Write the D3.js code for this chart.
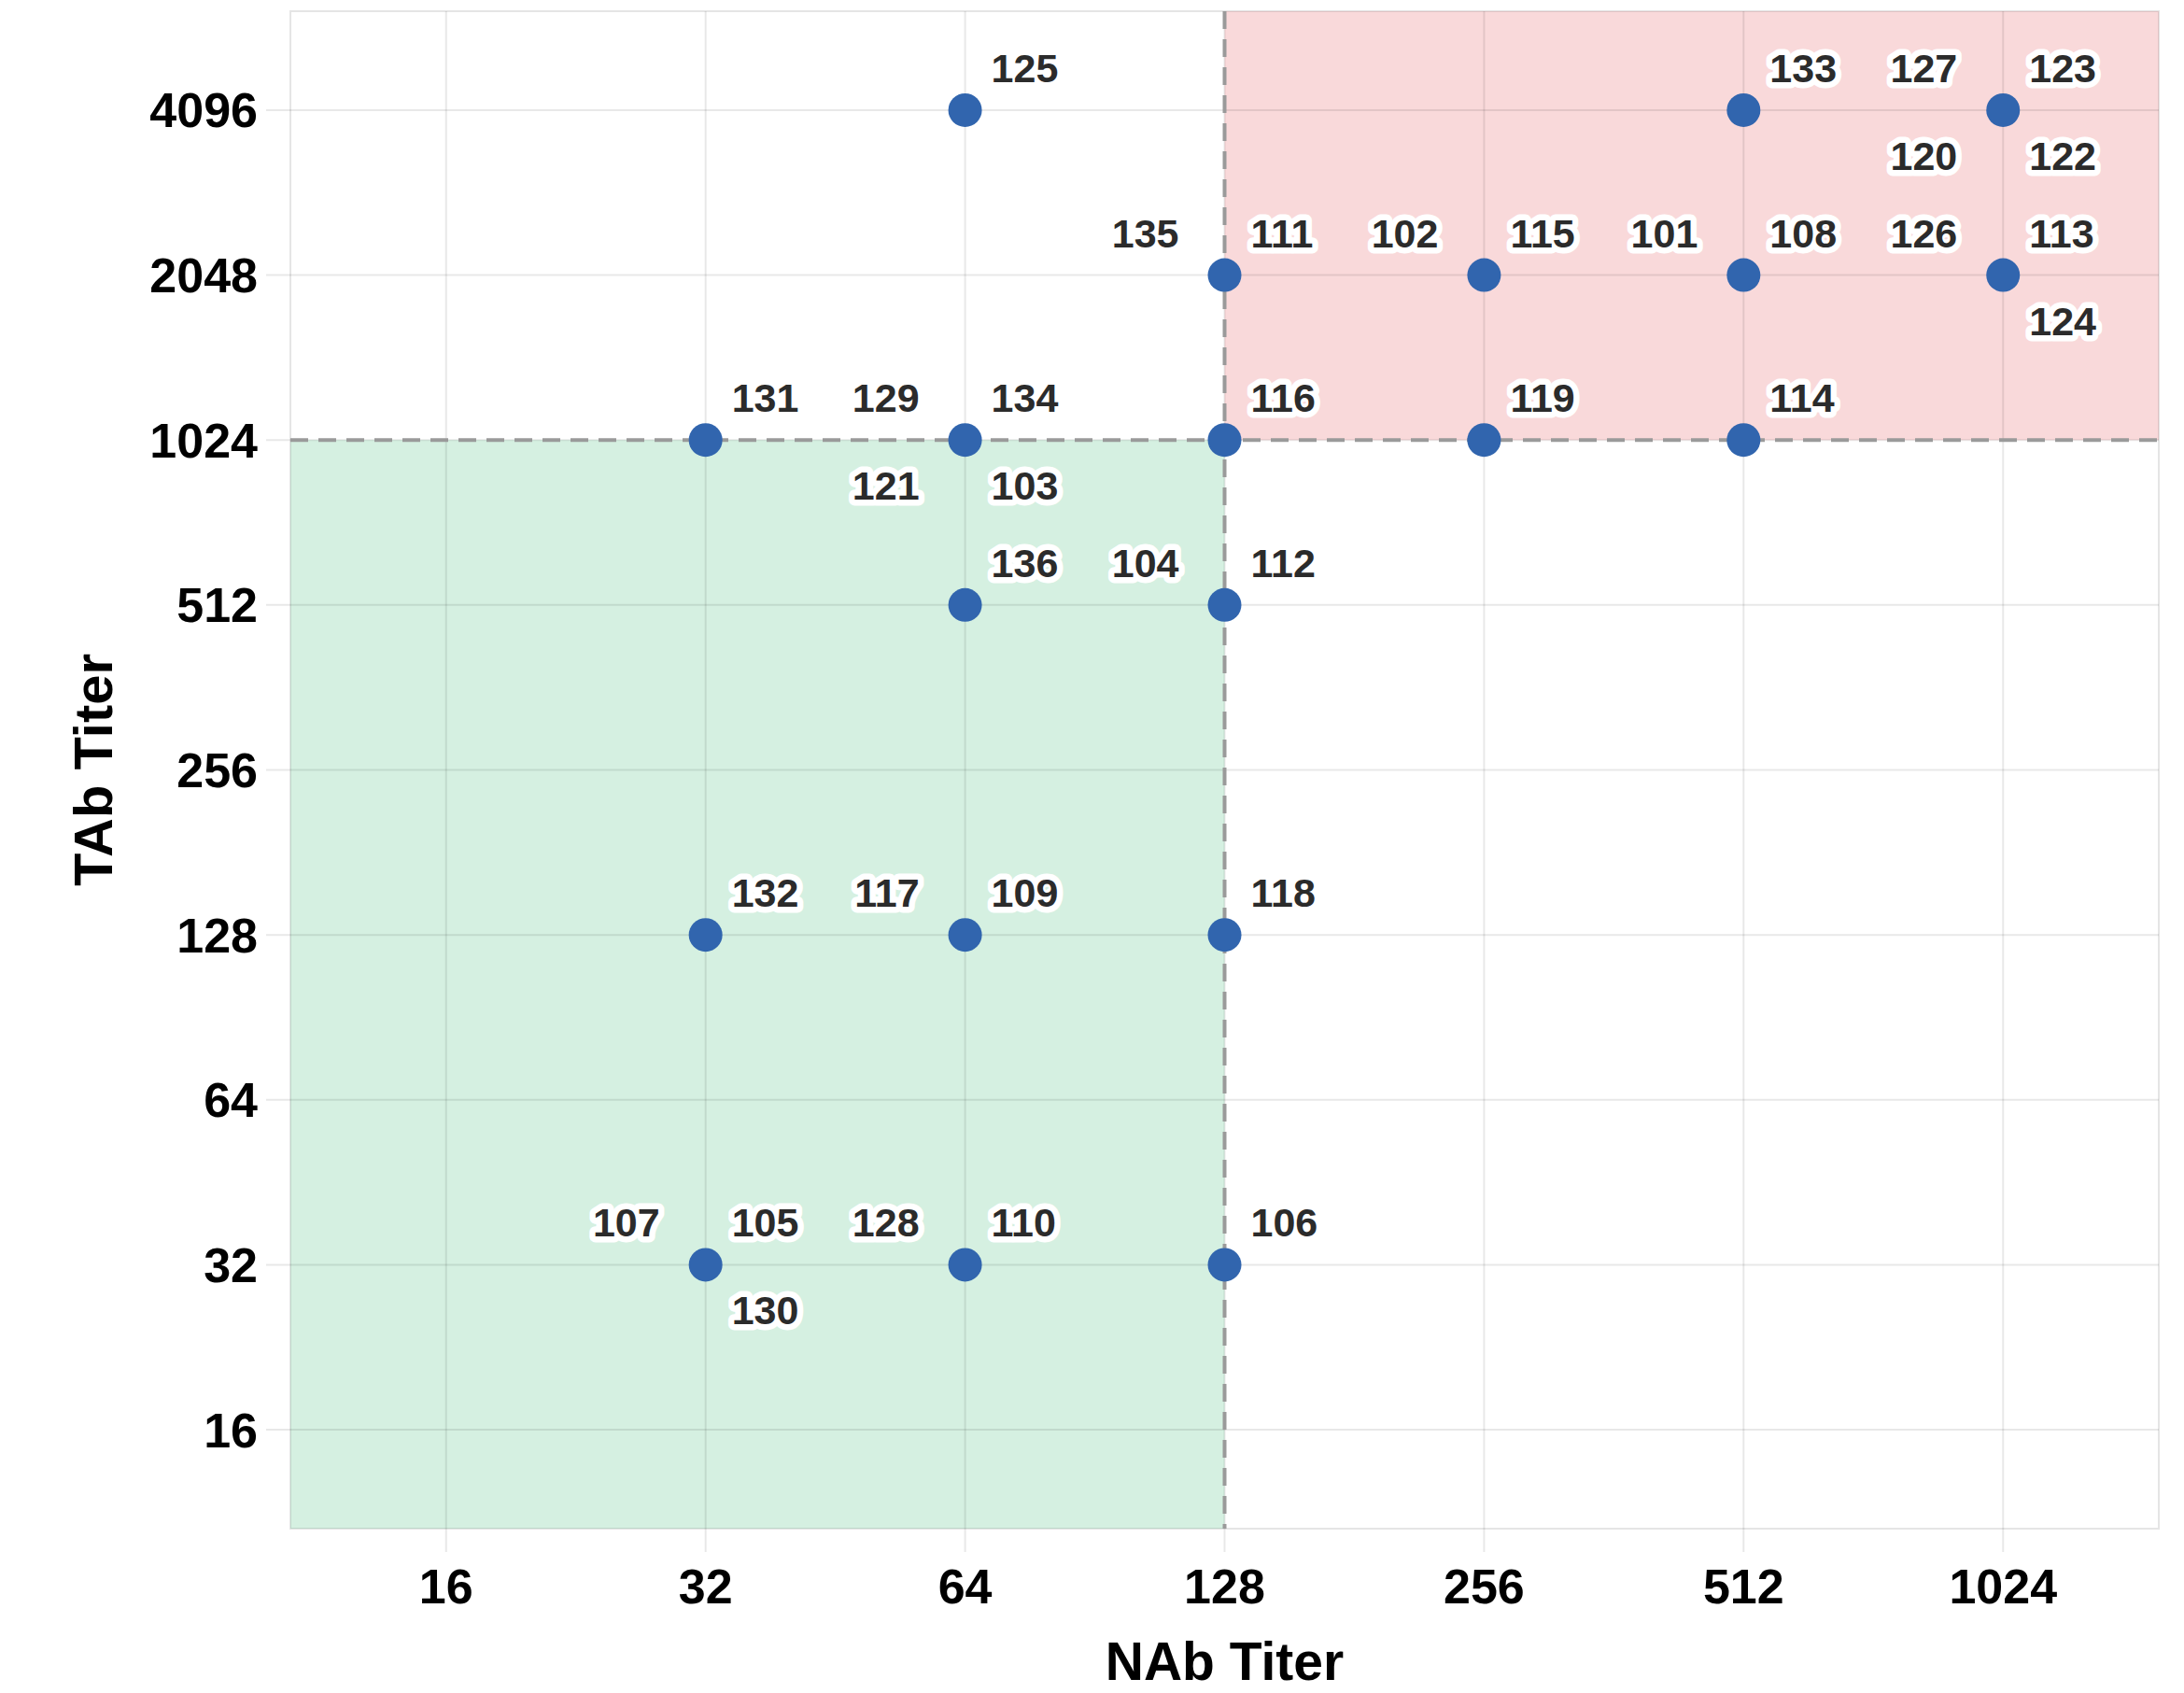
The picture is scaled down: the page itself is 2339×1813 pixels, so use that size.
<!DOCTYPE html>
<html>
<head>
<meta charset="utf-8">
<script src="https://cdn.jsdelivr.net/npm/d3@7"></script>
<style>
  html, body { margin: 0; padding: 0; background: #fff; }
  svg { display: block; font-family: "Liberation Sans", Arial, sans-serif; }
</style>
</head>
<body>
<svg id="chart"></svg>
<script>
// sample ids and their titers
const sampleIds = [101, 102, 103, 104, 105, 106, 107, 108, 109, 110, 111, 112,
                   113, 114, 115, 116, 117, 118, 119, 120, 121, 122, 123, 124,
                   125, 126, 127, 128, 129, 130, 131, 132, 133, 134, 135, 136];
const nabTiter = [512, 256, 64, 128, 32, 128, 32, 512, 64, 64, 128, 128,
                  1024, 512, 256, 128, 64, 128, 256, 1024, 64, 1024, 1024, 1024,
                  64, 1024, 1024, 64, 64, 32, 32, 32, 512, 64, 128, 64];
const tabTiter = [2048, 2048, 1024, 512, 32, 32, 32, 2048, 128, 32, 2048, 512,
                  2048, 1024, 2048, 1024, 128, 128, 1024, 4096, 1024, 4096, 4096, 2048,
                  4096, 2048, 4096, 32, 1024, 32, 1024, 128, 4096, 1024, 2048, 512];
// which corner each label sits in around its point (ur, ul, lr, ll)
const labelSlot = ["ul", "ul", "lr", "ul", "ur", "ur", "ul", "ur", "ur", "ur", "ur", "ur",
                   "ur", "ur", "ur", "ur", "ul", "ur", "ur", "ll", "ll", "lr", "ur", "lr",
                   "ur", "ul", "ul", "ul", "ul", "lr", "ur", "ur", "ur", "ur", "ul", "ur"];

const xTicks = [16, 32, 64, 128, 256, 512, 1024];
const yTicks = [16, 32, 64, 128, 256, 512, 1024, 2048, 4096];
const nabCutoff = 128;
const tabCutoff = 1024;

const width = 2339, height = 1813;
const margin = { top: 12, right: 27, bottom: 176, left: 311 };
const innerW = width - margin.left - margin.right;
const innerH = height - margin.top - margin.bottom;

const svg = d3.select("#chart")
    .attr("width", width)
    .attr("height", height);

const g = svg.append("g")
    .attr("transform", `translate(${margin.left},${margin.top})`);

// pad 0.6 octaves on each side of the tick range
const pad = Math.pow(2, 0.6);
const x = d3.scaleLog().base(2)
    .domain([d3.min(xTicks) / pad, d3.max(xTicks) * pad])
    .range([0, innerW]);
const y = d3.scaleLog().base(2)
    .domain([d3.min(yTicks) / pad, d3.max(yTicks) * pad])
    .range([innerH, 0]);

// shaded quadrants
g.append("rect")
    .attr("x", 0)
    .attr("y", y(tabCutoff))
    .attr("width", x(nabCutoff))
    .attr("height", innerH - y(tabCutoff))
    .attr("fill", "#d5f0e1");
g.append("rect")
    .attr("x", x(nabCutoff))
    .attr("y", 0)
    .attr("width", innerW - x(nabCutoff))
    .attr("height", y(tabCutoff))
    .attr("fill", "#f9d9da");

// grid + tick marks
const gridColor = "rgba(0,0,0,0.09)";
g.append("g").selectAll("line")
    .data(xTicks)
    .join("line")
    .attr("x1", d => x(d)).attr("x2", d => x(d))
    .attr("y1", 0).attr("y2", innerH + 25)
    .attr("stroke", gridColor)
    .attr("stroke-width", 2);
g.append("g").selectAll("line")
    .data(yTicks)
    .join("line")
    .attr("x1", -26).attr("x2", innerW)
    .attr("y1", d => y(d)).attr("y2", d => y(d))
    .attr("stroke", gridColor)
    .attr("stroke-width", 2);

// frame
g.append("rect")
    .attr("width", innerW)
    .attr("height", innerH)
    .attr("fill", "none")
    .attr("stroke", "rgba(0,0,0,0.1)")
    .attr("stroke-width", 2);

// cutoff lines
g.append("line")
    .attr("x1", 0).attr("x2", innerW)
    .attr("y1", y(tabCutoff)).attr("y2", y(tabCutoff))
    .attr("stroke", "#9a9a9a")
    .attr("stroke-width", 4)
    .attr("stroke-dasharray", "19,11");
g.append("line")
    .attr("x1", x(nabCutoff)).attr("x2", x(nabCutoff))
    .attr("y1", 0).attr("y2", innerH)
    .attr("stroke", "#9a9a9a")
    .attr("stroke-width", 4)
    .attr("stroke-dasharray", "19,11");

// tick labels
g.append("g").selectAll("text")
    .data(xTicks)
    .join("text")
    .attr("x", d => x(d))
    .attr("y", innerH + 80)
    .attr("text-anchor", "middle")
    .attr("font-size", 52)
    .attr("font-weight", "bold")
    .attr("fill", "#000")
    .text(d => d);
g.append("g").selectAll("text")
    .data(yTicks)
    .join("text")
    .attr("x", -35)
    .attr("y", d => y(d) + 18.5)
    .attr("text-anchor", "end")
    .attr("font-size", 52)
    .attr("font-weight", "bold")
    .attr("fill", "#000")
    .text(d => d);

// axis titles
svg.append("text")
    .attr("x", margin.left + innerW / 2)
    .attr("y", 1799)
    .attr("text-anchor", "middle")
    .attr("font-size", 57)
    .attr("font-weight", "bold")
    .text("NAb Titer");
svg.append("text")
    .attr("transform", `translate(120,${margin.top + innerH / 2}) rotate(-90)`)
    .attr("text-anchor", "middle")
    .attr("font-size", 58)
    .attr("font-weight", "bold")
    .text("TAb Titer");

// points (unique positions)
const samples = sampleIds.map((id, i) => ({
    id, nab: nabTiter[i], tab: tabTiter[i], slot: labelSlot[i]
}));
const uniquePts = Array.from(
    d3.group(samples, d => d.nab + "_" + d.tab).values(), v => v[0]);

g.append("g").selectAll("circle")
    .data(uniquePts)
    .join("circle")
    .attr("cx", d => x(d.nab))
    .attr("cy", d => y(d.tab))
    .attr("r", 18)
    .attr("fill", "#3165ae");

// labels with white halo
const slotOffset = {
    ur: { dx: 28, dy: -30, anchor: "start" },
    ul: { dx: -49, dy: -30, anchor: "end" },
    lr: { dx: 28, dy: 64, anchor: "start" },
    ll: { dx: -49, dy: 64, anchor: "end" }
};
g.append("g").selectAll("text")
    .data(samples)
    .join("text")
    .attr("x", d => x(d.nab) + slotOffset[d.slot].dx)
    .attr("y", d => y(d.tab) + slotOffset[d.slot].dy)
    .attr("text-anchor", d => slotOffset[d.slot].anchor)
    .attr("font-size", 43)
    .attr("font-weight", "bold")
    .attr("fill", "#2b2b2b")
    .attr("stroke", "#fff")
    .attr("stroke-width", 13)
    .attr("stroke-linejoin", "round")
    .attr("paint-order", "stroke")
    .text(d => d.id);
</script>
</body>
</html>
